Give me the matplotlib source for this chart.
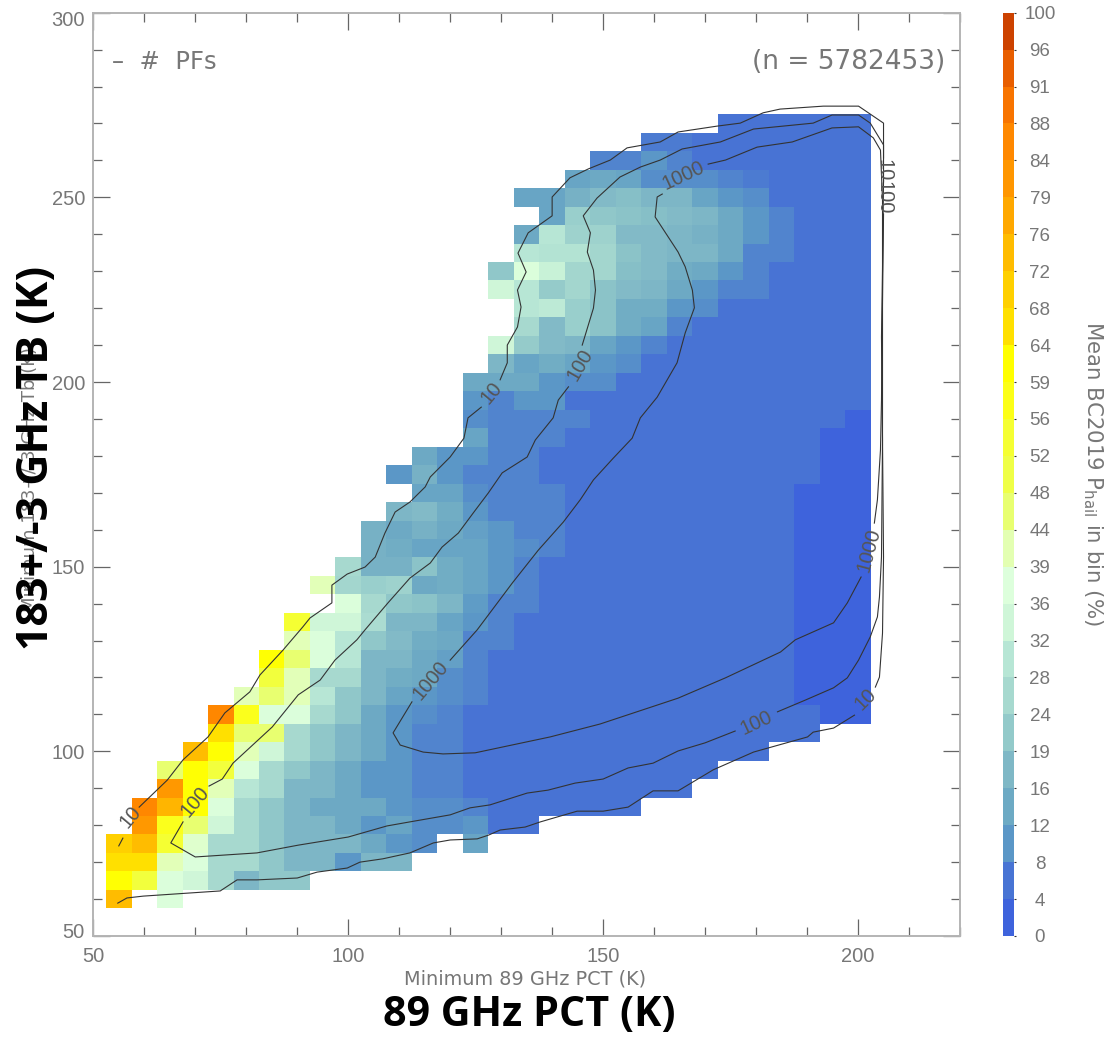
import matplotlib
matplotlib.use('Agg')
import matplotlib.pyplot as plt
import numpy as np
from matplotlib.colors import LinearSegmentedColormap, ListedColormap
from matplotlib.transforms import ScaledTranslation

W, H = 1115, 1037

# colour bar: tick values and the colour of each bin between them
cbar_ticks = [0, 4, 8, 12, 16, 19, 24, 28, 32, 36, 39, 44, 48, 52, 56, 59, 64,
              68, 72, 76, 79, 84, 88, 91, 96, 100]
bin_colors = ['#3E63DC', '#4874D4', '#5B97C7', '#6DAAC4', '#7FB8C6', '#93CACA',
              '#A7D9CF', '#B7E6D5', '#CFF6D8', '#DDFFDC', '#E3FFB2', '#E8FF70',
              '#EFFF47', '#F5FF33', '#FCFF18', '#FFFF00', '#FFE000', '#FFD000',
              '#FFBC00', '#FFA800', '#FF9600', '#FF8800', '#F87400', '#E85E00',
              '#CC4200']

n = np.nan
# mean hail probability (%) in 5 K bins, rows from 57.5 K upward, first column of each row
x_edges = np.arange(52.5, 203, 5)
y_edges = np.arange(57.5, 273, 5)
row_start = [0, 0, 0, 0, 1, 1, 2, 2, 3, 4, 4, 5, 6, 6, 7, 7, 9, 8, 9, 10, 10, 11,
             12, 11, 12, 14, 14, 14, 14, 15, 15, 16, 16, 15, 15, 16, 16, 17, 16,
             18, 19, 21, 24]
row_values = [
    [74, n, 37],
    [61, 52, 37, 34, 26, 17, 21, 21],
    [66, 66, 41, 37, 26, 26, 21, 17, 17, 10, 17, 17],
    [70, 74, 54, 39, 26, 26, 21, 17, 17, 17, 14, 10, 9, n, 13],
    [81, 57, 46, 34, 26, 21, 17, 17, 14, 10, 13, 9, 9, 10, 6, 6],
    [86, 75, 61, 37, 26, 21, 17, 14, 14, 14, 10, 9, 9, 8] + [6] * 6,
    [81, 61, 41, 30, 26, 17, 17, 14, 10, 10, 8, 8] + [6] * 9,
    [46, 61, 52, 37, 26, 21, 17, 14, 10, 10, 8, 8] + [6] * 10,
    [74, 61, 41, 34, 26, 21, 17, 14, 10, 8, 8] + [6] * 12,
    [66, 46, 46, 26, 21, 17, 14, 10, 8, 8] + [6] * 14,
    [86, 57, 37, 37, 26, 21, 14, 10, 9, 8] + [6] * 14 + [2, 2],
    [41, 46, 41, 30, 21, 17, 13, 10, 9, 8] + [6] * 12 + [2, 2, 2],
    [52, 41, 26, 26, 17, 15, 14, 9, 8] + [6] * 12 + [2, 2, 2],
    [61, 46, 37, 30, 17, 17, 14, 12, 8] + [6] * 12 + [2, 2, 2],
    [41, 37, 30, 21, 18, 15, 14, 8, 8] + [6] * 11 + [2, 2, 2],
    [54, 34, 34, 27, 17, 17, 13, 10, 8] + [6] * 11 + [2, 2, 2],
    [37, 26, 21, 20, 17, 11, 8, 8] + [6] * 10 + [2, 2, 2],
    [41, 25, 23, 24, 14, 15, 13, 10, 8] + [6] * 10 + [2, 2, 2],
    [26, 16, 16, 20, 15, 13, 10, 8] + [6] * 10 + [2, 2, 2],
    [16, 15, 13, 13, 13, 10, 9, 8] + [6] * 9 + [2, 2, 2],
    [16, 14, 16, 14, 12, 10, 8, 8] + [6] * 9 + [2, 2, 2],
    [17, 18, 15, 10, 8, 8, 8] + [6] * 9 + [2, 2, 2],
    [13, 13, 9, 8, 8, 8] + [6] * 9 + [2, 2, 2],
    [10, 16, 10, 8, 8, 8] + [6] * 11 + [2, 2],
    [14, 10, 10, 8, 8] + [6] * 11 + [2, 2],
    [13, 8, 8, 8] + [6] * 10 + [2, 2],
    [9, 8, 8, 8, 8] + [6] * 10 + [2],
    [10, 8, 10, 10] + [6] * 12,
    [14, 14, 14, 10, 9, 9] + [6] * 10,
    [17, 13, 15, 13, 10, 9] + [6] * 9,
    [34, 22, 18, 17, 13, 10, 8] + [6] * 8,
    [26, 18, 23, 20, 15, 13, 8] + [6] * 7,
    [30, 31, 23, 20, 15, 15, 10, 9] + [6] * 6,
    [34, 30, 22, 25, 20, 18, 17, 14, 10, 8, 8] + [6] * 4,
    [21, 37, 33, 25, 25, 19, 18, 15, 14, 10, 8] + [6] * 4,
    [30, 29, 29, 25, 20, 18, 17, 17, 14, 8, 8] + [6] * 3,
    [14, 30, 24, 24, 18, 18, 17, 16, 14, 10, 8] + [6] * 3,
    [13, 23, 21, 20, 19, 18, 17, 14, 10, 8] + [6] * 3,
    [13, 13, 16, 18, 19, 17, 17, 13, 10, 9] + [6] * 4,
    [13, 14, 13, 9, 9, 9, 8, 7] + [6] * 4,
    [8, 8, 10, 8] + [6] * 7,
    [7, 7] + [6] * 7,
    [6] * 6,
]

# contour lines of # PFs, broken where the labels sit
c10_x = [[54.8, 56.6, 59.8, 74.9, 78.2, 82.1, 90.0, 93.9, 99.8, 102.3, 106.8, 112.1, 116.7, 120.0, 125.3,
          127.5, 129.8, 134.7, 137.7, 144.9, 150.0, 154.9, 159.8, 164.7, 171.6, 179.5, 190.1, 191.2, 195.2, 199.3],
         [203.4, 204.2, 204.8, 205.0, 204.8, 204.6, 204.8, 205.0],
         [205.0, 205.0, 200.1, 193.2, 184.7, 181.4, 176.9, 172.4, 164.7, 161.2, 154.7, 151.4, 147.1, 143.5, 140.0,
          140.0, 135.3, 133.3, 134.9, 133.2, 133.9, 133.2, 131.2, 131.2, 129.8],
         [126.1, 123.5, 122.7, 120.0, 116.1, 115.1, 112.1, 109.2, 107.2, 105.3, 103.3, 99.8, 96.8, 96.8, 92.5, 91.1,
          87.2, 82.7, 80.7, 75.8, 72.5, 67.6, 64.5, 59.0],
         [55.8, 55.0]]
c10_y = [[58.9, 60.3, 60.8, 62.2, 65.2, 65.2, 65.7, 67.3, 68.4, 70.0, 70.9, 72.5, 75.2, 76.0, 76.3,
          77.3, 78.7, 79.5, 80.9, 83.8, 83.8, 84.9, 89.3, 89.3, 95.0, 99.8, 103.9, 105.2, 106.3, 109.8],
         [117.4, 120.1, 132.0, 152.6, 184.3, 212.2, 230.3, 254.7],
         [260.7, 270.1, 274.7, 274.7, 273.9, 272.9, 270.1, 269.3, 267.7, 265.0, 263.4, 260.1, 257.7, 255.3, 250.1,
          245.0, 240.4, 234.9, 229.8, 224.9, 220.3, 214.9, 210.0, 205.2, 200.6],
         [193.2, 190.3, 184.8, 179.7, 174.3, 171.6, 167.5, 164.8, 159.1, 152.6, 149.9, 148.0, 145.0, 140.2, 136.1, 133.7,
          127.4, 120.7, 116.1, 110.4, 103.9, 97.7, 92.2, 84.9],
         [76.5, 74.4]]
c100_x = [[67.6, 65.2, 70.0, 82.1, 90.2, 100.0, 107.6, 112.1, 120.0, 123.9, 127.8, 135.1, 139.2, 144.5, 150.0,
           154.9, 159.8, 164.7, 170.0, 175.9],
          [184.2, 189.7, 195.2, 197.9, 200.1, 202.4, 203.8, 204.2, 204.6, 204.8, 204.8, 205.0],
          [205.0, 205.0, 202.4, 200.1, 194.9, 191.2, 179.5, 173.0, 165.5, 161.2, 157.3, 153.3, 148.8, 146.1, 147.5,
           146.9, 148.1, 148.5, 148.1, 145.9],
          [143.2, 141.2, 140.2, 136.7, 135.1, 130.2, 127.5, 124.5, 121.6, 118.4, 116.1, 112.1, 107.8, 103.3, 101.7,
           97.4, 94.5, 90.2, 85.1, 77.4, 75.3, 72.7]]
c100_y = [[80.9, 75.2, 71.4, 72.5, 74.6, 76.8, 79.8, 80.9, 82.8, 84.7, 85.5, 88.7, 89.5, 91.4, 92.5,
           95.5, 96.8, 100.1, 102.3, 105.5],
          [110.7, 113.9, 117.2, 119.9, 124.7, 131.0, 136.4, 141.8, 152.6, 184.3, 222.2, 245.5],
          [254.2, 264.2, 270.1, 272.3, 272.3, 270.1, 268.5, 265.0, 263.1, 260.1, 258.2, 255.5, 249.8, 245.0, 240.4,
           235.2, 230.3, 224.9, 220.0, 210.0],
          [198.7, 195.1, 190.3, 184.3, 179.7, 175.4, 170.0, 164.5, 159.1, 155.3, 151.0, 146.9, 140.2, 132.9, 130.2,
           124.7, 119.3, 115.3, 106.6, 96.8, 92.5, 90.6]]
c1000_x = [[112.5, 108.8, 110.2, 114.7, 118.6, 124.9, 139.6, 149.4, 164.7, 174.0, 184.8, 187.7, 195.2, 197.9, 200.6],
           [203.2, 203.8, 204.4, 204.6, 204.8, 204.8, 204.4, 203.0, 200.1, 194.9, 187.1, 180.2, 174.0, 170.6],
           [161.6, 160.6, 160.2, 164.7, 166.1, 167.5, 167.9, 166.1, 164.5, 160.6, 157.3, 155.7, 152.0, 148.1, 145.5,
            142.2, 137.3, 132.2, 125.3, 120.0]]
c1000_y = [[113.4, 105.0, 101.7, 99.8, 99.3, 99.6, 103.9, 107.4, 114.4, 119.9, 126.9, 130.2, 134.8, 140.2, 147.2],
           [161.8, 168.1, 181.6, 195.1, 222.2, 249.3, 262.8, 266.1, 269.1, 268.8, 265.0, 263.6, 260.1, 259.0],
           [250.9, 250.1, 244.7, 235.2, 231.2, 224.9, 220.1, 213.3, 205.2, 195.9, 190.3, 184.8, 179.4, 173.5, 168.1,
            162.1, 154.5, 145.6, 132.9, 124.7]]

# contour labels
label_text = ['10', '100', '1000', '10', '100', '1000', '100', '10', '1000', '10', '100']
label_x = [57.2, 70.0, 116.1, 128.0, 145.5, 165.7, 180.0, 201.4, 202.2, 205.0, 205.0]
label_y = [82.2, 86.3, 119.3, 197.0, 204.6, 255.8, 107.7, 114.2, 154.5, 257.4, 249.8]
label_rot = [50, 50, 50, 50, 60, 25, 25, 45, 75, -90, -90]

GRAY = '#777777'
THIN = ['Liberation Sans', 'DejaVu Sans']

# cell values become a grid, empty where nothing was drawn
grid = np.full((len(y_edges) - 1, len(x_edges) - 1), np.nan)
for j, (start, vals) in enumerate(zip(row_start, row_values)):
    grid[j, start:start + len(vals)] = vals

# colours run through the bin centres so in-between cell values blend
centers = [(a + b) / 2 / 100 for a, b in zip(cbar_ticks[:-1], cbar_ticks[1:])]
anchors = [(0, bin_colors[0])] + list(zip(centers, bin_colors)) + [(1, bin_colors[-1])]
cmap = LinearSegmentedColormap.from_list('hail', anchors, N=512)

fig = plt.figure(figsize=(W / 100, H / 100), dpi=100)


def box(x0, y0, x1, y1):
    return [x0 / W, 1 - y1 / H, (x1 - x0) / W, (y1 - y0) / H]


ax = fig.add_axes(box(93.3, 12.7, 960, 936))
ax.pcolormesh(x_edges, y_edges, grid, cmap=cmap, vmin=0, vmax=100, antialiased=False, linewidth=0)

for xs, ys in zip(c10_x + c100_x + c1000_x, c10_y + c100_y + c1000_y):
    ax.plot(xs, ys, color='#333333', lw=0.8)

for t, x, y, r in zip(label_text, label_x, label_y, label_rot):
    ax.text(x, y, t, rotation=r, ha='center', va='center', fontsize=14.5,
            color='#555555', family=THIN, rotation_mode='anchor')

ax.set_xlim(50, 220)
ax.set_ylim(50, 300)
ax.set_xticks([50, 100, 150, 200])
ax.set_xticks(np.arange(50, 221, 10), minor=True)
ax.set_yticks([50, 100, 150, 200, 250, 300])
ax.set_yticks(np.arange(50, 301, 10), minor=True)
ax.tick_params(which='major', direction='in', top=True, right=True, length=12.5, width=0.9, color='#666666',
               labelsize=14.5, labelcolor=GRAY)
ax.tick_params(which='minor', direction='in', top=True, right=True, length=6.5, width=0.9, color='#666666')
ax.tick_params(axis='x', which='major', pad=8)
ax.tick_params(axis='y', which='major', pad=6)
for lab in ax.get_xticklabels() + ax.get_yticklabels():
    lab.set_family(THIN)
# the end labels on the y axis sit a little inside the frame
ylabs = ax.get_yticklabels()
ylabs[0].set_transform(ylabs[0].get_transform() + ScaledTranslation(0, 6 / 100, fig.dpi_scale_trans))
ylabs[-1].set_transform(ylabs[-1].get_transform() + ScaledTranslation(0, -6 / 100, fig.dpi_scale_trans))
for s in ax.spines.values():
    s.set_color('#b4b4b4')
    s.set_linewidth(1.4)

fig.text(112 / W, 1 - 62 / H, '–  #  PFs', fontsize=17.5, color=GRAY, ha='left', va='center', family='DejaVu Sans')
fig.text(945 / W, 1 - 62 / H, '(n = 5782453)', fontsize=19, color=GRAY, ha='right', va='center', family='DejaVu Sans')

# colour bar with even bins
cax = fig.add_axes(box(1003, 12.7, 1014.3, 936))
cax.pcolormesh([0, 1], np.arange(len(cbar_ticks)), np.arange(len(bin_colors))[:, None],
               cmap=ListedColormap(bin_colors), antialiased=False, linewidth=0)
cax.set_xticks([])
cax.set_yticks(np.arange(len(cbar_ticks)))
cax.set_yticklabels(cbar_ticks, fontsize=13.5, color=GRAY, family=THIN, ha='center')
cax.yaxis.tick_right()
cax.tick_params(axis='y', length=1.5, width=0.8, color='#333333', pad=17)
for s in cax.spines.values():
    s.set_visible(False)

fig.text(1093 / W, 1 - 473 / H, 'Mean BC2019 P$_{\\mathrm{hail}}$ in bin (%)', rotation=270, fontsize=15.3,
         color=GRAY, ha='center', va='center', family='DejaVu Sans')

# the original thin axis titles, the left one sits under the bold title
fig.text(525 / W, 1 - 979 / H, 'Minimum 89 GHz PCT (K)', fontsize=13.9, color=GRAY, ha='center', va='center',
         family='DejaVu Sans')
fig.text(30 / W, 1 - 480 / H, 'Minimum 183+/-3 GHz Tb (K)', fontsize=13, rotation=90, color=GRAY, ha='center',
         va='center', family='DejaVu Sans')

# bold titles pasted on top
fig.text(529 / W, 1 - 1016 / H, '89 GHz PCT (K)', fontsize=29.7, fontweight='bold', color='black', ha='center',
         va='center', family='Open Sans')
fig.text(37 / W, 1 - 458 / H, '183+/-3 GHz TB (K)', fontsize=31, fontweight='bold', rotation=90, color='black',
         ha='center', va='center', family='Open Sans')

fig.savefig('out.png', dpi=100)
